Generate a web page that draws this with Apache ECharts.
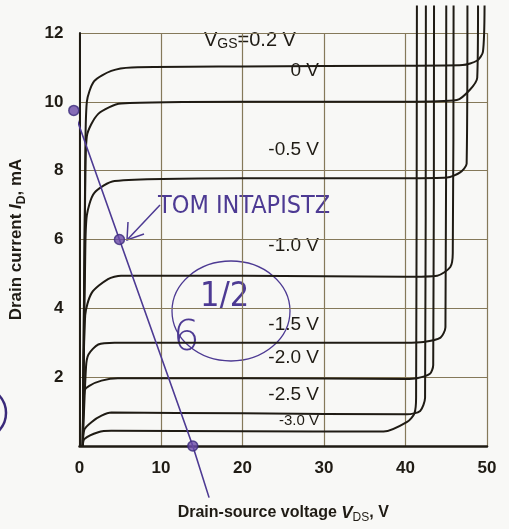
<!DOCTYPE html>
<html><head><meta charset="utf-8">
<script src="https://cdn.jsdelivr.net/npm/echarts@6/dist/echarts.min.js"></script>
<style>html,body{margin:0;padding:0;background:#f8f8f6;}#c{width:509px;height:529px;}</style>
</head><body><div id="c"></div>
<script>
// x ticks (V_DS, V) and y ticks (I_D, mA)
const xTicks = [0, 10, 20, 30, 40, 50];
const yTicks = [0, 2, 4, 6, 8, 10, 12];
// gate-source voltages
const vgsLabels = ['V_GS=0.2 V', '0 V', '-0.5 V', '-1.0 V', '-1.5 V', '-2.0 V', '-2.5 V', '-3.0 V'];
// each curve: [V_DS, I_D]
const curveP02 = [[0.4,0],[0.7,8.0],[0.9,10.0],[1.8,10.6],[3.9,10.9],[6.4,11.0],[20,11.03],[40,11.05],[47.0,11.07],[48.8,11.2],[49.5,11.45],[49.7,12.8]];
const curve0 = [[0.4,0],[0.7,7.5],[0.9,9.0],[2.3,9.65],[5.1,9.95],[20,10.0],[40,10.0],[46.3,10.05],[47.9,10.35],[48.8,10.7],[48.9,12.8]];
const curveM05 = [[0.4,0],[0.7,5.5],[0.9,6.7],[1.8,7.35],[4.3,7.7],[20,7.78],[40,7.78],[45.1,7.8],[46.7,7.95],[47.5,8.2],[47.6,12.8]];
const curveM10 = [[0.4,0],[0.7,3.8],[1.5,4.45],[3.5,4.85],[5.1,4.95],[20,4.95],[40,4.92],[43.9,4.95],[45.5,5.2],[45.8,5.6],[45.9,12.8]];
const curveM15 = [[0.4,0],[0.8,2.3],[1.1,2.66],[2.3,2.95],[4.3,3.0],[20,3.0],[40,3.0],[42.2,3.02],[44.3,3.15],[44.9,3.45],[45.0,12.8]];
const curveM20 = [[0.4,0],[0.6,1.6],[1.2,1.75],[2.7,1.9],[4.7,1.97],[20,1.97],[40,1.95],[41.4,1.97],[43.0,2.1],[43.4,2.35],[43.5,12.8]];
const curveM25 = [[0.4,0],[0.6,0.48],[1.5,0.7],[2.7,0.88],[3.9,0.97],[20,0.95],[40.2,0.92],[41.8,1.02],[42.4,1.4],[42.5,12.8]];
const curveM30 = [[0.4,0],[0.6,0.2],[2.3,0.4],[3.9,0.44],[20,0.43],[37.3,0.42],[40.2,0.7],[41.1,0.95],[41.3,1.4],[41.4,12.8]];
const curves = [curveP02, curve0, curveM05, curveM10, curveM15, curveM20, curveM25, curveM30];
// handwritten load line through three marked points
const loadLine = [[-0.7,9.75],[4.9,6.0],[13.9,0],[15.9,-1.5]];
const loadPoints = [[-0.7,9.75],[4.9,6.0],[13.9,0]];

const chart = echarts.init(document.getElementById('c'));
const ink = '#1f1b14';
const gridCol = '#85795a';
const purple = '#4d3a93';
const series = curves.map((d, i) => ({
  type: 'line', name: vgsLabels[i], data: d, showSymbol: false, symbol: 'none',
  smooth: 0.25, clip: false, lineStyle: {color: ink, width: 2}, z: 3
}));
series.push({type: 'line', data: loadLine, symbol: 'none', clip: false, lineStyle: {color: purple, width: 1.6}, z: 5});
series.push({type: 'scatter', data: loadPoints, clip: false, symbolSize: 10,
  itemStyle: {color: '#6a4aa8', borderColor: '#3a2a7a', borderWidth: 1.5}, z: 6});

const lblFont = '"Liberation Sans", Arial, sans-serif';
const curveLabel = (text, y, size) => ({type: 'text', right: 509 - 319, top: y - size / 2 - 2,
  style: {text: text, font: size + 'px ' + lblFont, fill: ink, textAlign: 'right'}});

chart.setOption({
  backgroundColor: '#f8f8f6',
  animation: false,
  grid: {left: 77, right: 22, top: 33, bottom: 74},
  xAxis: {type: 'value', min: xTicks[0], max: xTicks[xTicks.length - 1], interval: 10,
    axisLine: {lineStyle: {color: ink, width: 2.5}}, axisTick: {show: false},
    axisLabel: {color: ink, fontSize: 17, fontWeight: 'bold', fontFamily: lblFont, margin: 14,
      formatter: v => xTicks.includes(v) ? String(v) : ''},
    splitLine: {show: true, lineStyle: {color: gridCol, width: 1.2}},
    name: '{a|Drain-source voltage }{i|V}{s|DS}{a|, V}', nameLocation: 'middle', nameGap: 56,
    nameTextStyle: {rich: {
      a: {fontSize: 16, fontWeight: 'bold', color: ink, fontFamily: lblFont},
      i: {fontSize: 17, fontWeight: 'bold', fontStyle: 'italic', color: ink, fontFamily: lblFont},
      s: {fontSize: 12, color: ink, fontFamily: lblFont, padding: [10, 0, 0, 0]}}}
  },
  yAxis: {type: 'value', min: yTicks[0], max: yTicks[yTicks.length - 1], interval: 2,
    axisLine: {show: true, lineStyle: {color: ink, width: 2}}, axisTick: {show: false},
    axisLabel: {color: ink, fontSize: 17, fontWeight: 'bold', fontFamily: lblFont, margin: 16,
      formatter: v => v === 0 ? '' : String(v)},
    splitLine: {show: true, lineStyle: {color: gridCol, width: 1.2}},
    name: '{a|Drain current }{i|I}{s|D}{a|, mA}', nameLocation: 'middle', nameGap: 52, nameRotate: 90,
    nameTextStyle: {rich: {
      a: {fontSize: 17, fontWeight: 'bold', color: ink, fontFamily: lblFont},
      i: {fontSize: 17, fontWeight: 'bold', fontStyle: 'italic', color: ink, fontFamily: lblFont},
      s: {fontSize: 12, fontWeight: 'bold', color: ink, fontFamily: lblFont, padding: [10, 0, 0, 0]}}}
  },
  series: series,
  graphic: [
    {type: 'text', left: 204, top: 30, style: {rich: {
        a: {fontSize: 20, fontFamily: lblFont, fill: ink},
        s: {fontSize: 14, fontFamily: lblFont, fill: ink, padding: [9, 0, 0, 0]}},
      text: '{a|V}{s|GS}{a|=0.2 V}'}},
    curveLabel('0 V', 73, 19),
    curveLabel('-0.5 V', 152, 19),
    curveLabel('-1.0 V', 248, 19),
    curveLabel('-1.5 V', 327, 19),
    curveLabel('-2.0 V', 360, 19),
    curveLabel('-2.5 V', 397, 19),
    curveLabel('-3.0 V', 423, 15),
    // handwriting
    {type: 'text', left: 158, top: 194, style: {text: 'TOM INTAPISTZ', font: '300 25px "DejaVu Sans Condensed", "DejaVu Sans", sans-serif', fill: purple}},
    {type: 'line', shape: {x1: 160, y1: 205, x2: 127, y2: 240}, style: {stroke: purple, lineWidth: 1.5}},
    {type: 'polyline', shape: {points: [[128, 222], [127, 240], [144, 234]]}, style: {stroke: purple, lineWidth: 1.5, fill: null}},
    {type: 'ellipse', shape: {cx: 231, cy: 311, rx: 59, ry: 50}, style: {stroke: purple, lineWidth: 1.3, fill: null}},
    {type: 'text', left: 173, top: 318, style: {text: '6', font: '300 42px "DejaVu Sans", sans-serif', fill: purple}},
    {type: 'text', left: 200, top: 280, style: {text: '1/2', font: '300 34px "DejaVu Sans Condensed", "DejaVu Sans", sans-serif', fill: purple}},
    {type: 'arc', shape: {cx: -20, cy: 413, r: 26, startAngle: -0.8, endAngle: 0.8}, style: {stroke: '#3a2a7a', lineWidth: 2.5, fill: null}}
  ]
});
</script></body></html>
